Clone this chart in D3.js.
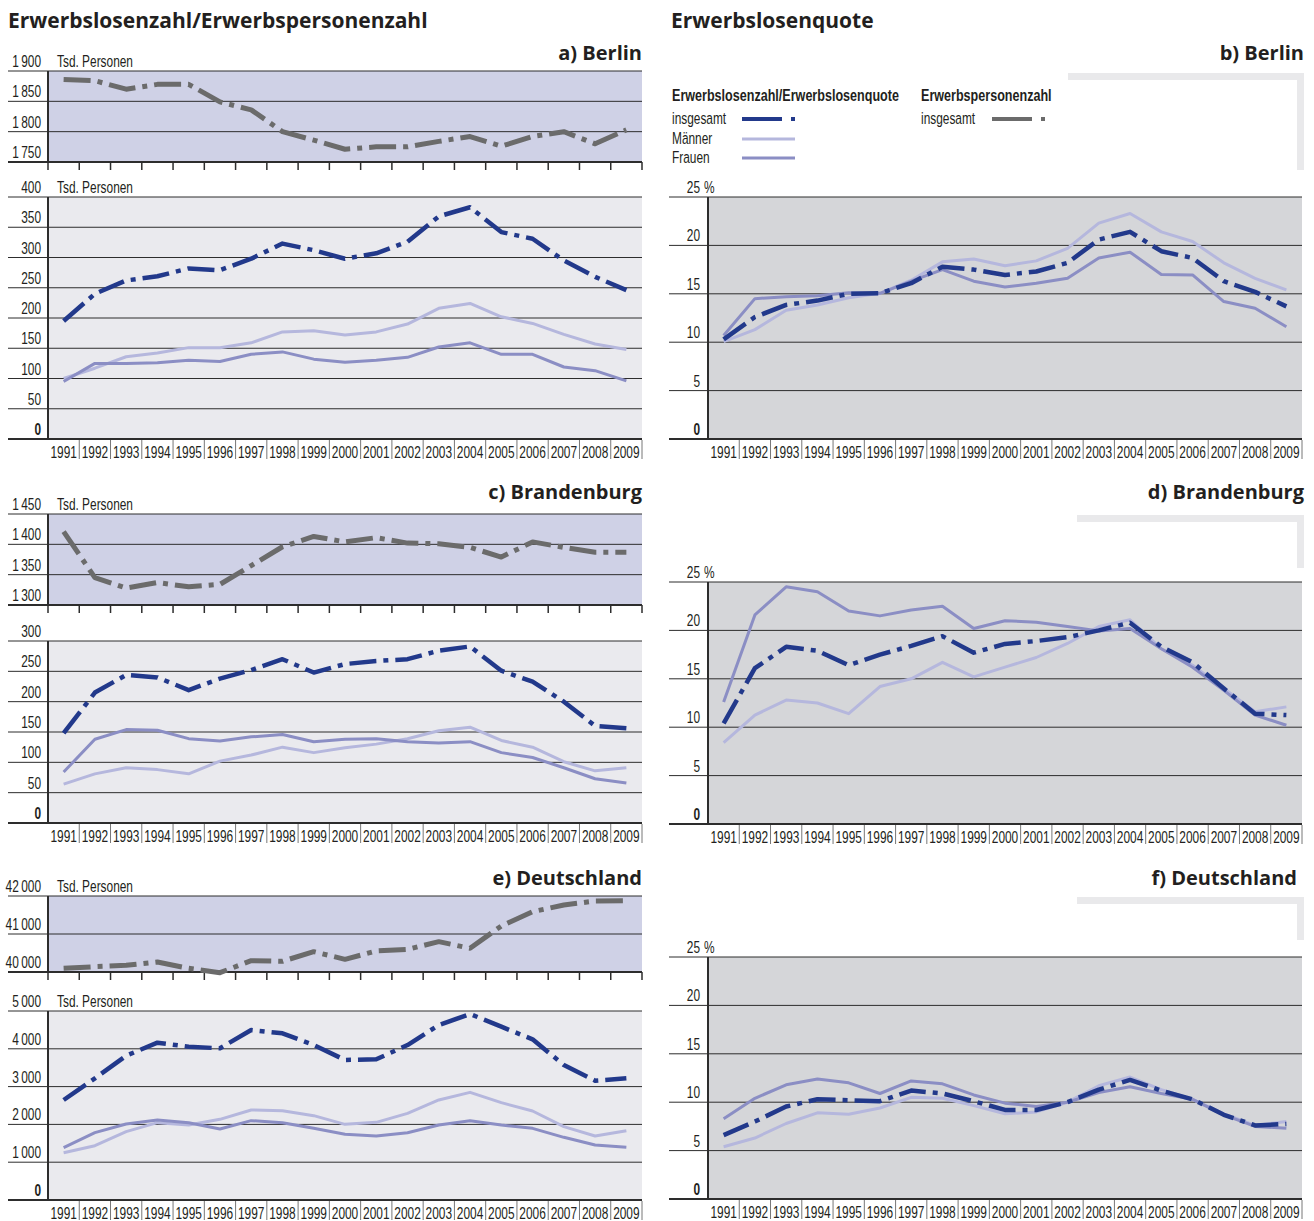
<!DOCTYPE html>
<html>
<head>
<meta charset="utf-8">
<script src="https://cdn.jsdelivr.net/npm/d3@7"></script>
<style>
  body { margin: 0; background: #fff; }
  svg text { font-family: 'Liberation Sans', Arial, sans-serif; fill: #231f20; }
  svg text.head { font-family: 'Open Sans', sans-serif; font-weight: 700; }
</style>
</head>
<body>
<svg id="chart" width="1314" height="1221"></svg>
<script>
// DATA
/////////////////////////
var years = ["1991","1992","1993","1994","1995","1996","1997","1998","1999","2000",
             "2001","2002","2003","2004","2005","2006","2007","2008","2009"];

// Erwerbspersonen (Tsd.)
var berlinPersons = [1886,1884,1870,1878,1878,1849,1836,1800,1786,1771,1775,1775,1784,1792,1776,1792,1800,1780,1803];
var brbPersons    = [1421,1345,1328,1337,1330,1334,1365,1396,1413,1404,1411,1402,1401,1395,1379,1404,1395,1387,1387];
var dePersons     = [40097,40140,40175,40263,40097,39982,40298,40282,40535,40334,40553,40597,40798,40624,41211,41587,41763,41868,41877];

// Erwerbslose (Tsd.)
var berlinTotal = [195,240,262,269,282,279,298,323,312,298,307,326,368,383,342,331,295,268,246];
var berlinMen   = [100,117,136,142,151,151,159,177,179,172,177,190,216,224,202,191,173,157,148];
var berlinWomen = [95,125,125,126,130,128,140,144,132,127,130,135,152,159,140,140,119,113,96];

var brbTotal = [148,215,244,240,219,238,252,270,248,262,267,270,284,291,251,233,200,160,156];
var brbMen   = [64,81,91,88,81,102,112,125,116,124,130,139,152,158,136,125,101,86,91];
var brbWomen = [84,138,154,153,139,135,142,146,134,138,139,134,132,134,116,108,91,73,66];

var deTotal = [2646,3219,3818,4162,4056,4013,4497,4409,4100,3704,3722,4100,4630,4921,4585,4250,3571,3157,3219];
var deMen   = [1252,1437,1808,2046,1984,2134,2381,2363,2231,2002,2055,2293,2646,2848,2575,2354,1940,1693,1834];
var deWomen = [1384,1781,2011,2116,2046,1878,2099,2046,1896,1737,1693,1781,1984,2099,1984,1896,1658,1455,1393];

// Erwerbslosenquote (%)
var berlinRateTotal = [10.3,12.6,13.85,14.3,15.0,15.05,16.1,17.8,17.5,16.95,17.3,18.2,20.6,21.4,19.4,18.7,16.3,15.2,13.7];
var berlinRateMen   = [10.05,11.3,13.3,13.85,14.6,15.05,16.4,18.3,18.6,17.9,18.4,19.7,22.3,23.3,21.4,20.4,18.2,16.6,15.4];
var berlinRateWomen = [10.7,14.5,14.7,14.8,15.1,15.05,16.3,17.5,16.3,15.7,16.1,16.6,18.7,19.3,17.0,16.95,14.2,13.5,11.6];

var brbRateTotal = [10.4,16.1,18.3,17.9,16.4,17.5,18.4,19.4,17.7,18.6,18.9,19.3,20.0,20.8,18.3,16.7,14.0,11.4,11.25];
var brbRateMen   = [8.4,11.25,12.8,12.5,11.4,14.2,15.0,16.7,15.2,16.2,17.2,18.65,20.4,21.1,18.1,16.4,14.0,11.6,12.1];
var brbRateWomen = [12.6,21.6,24.5,24.0,22.0,21.5,22.1,22.5,20.2,21.0,20.85,20.4,19.95,20.2,18.1,16.2,13.8,11.25,10.2];

var deRateTotal = [6.6,8.0,9.55,10.3,10.2,10.1,11.2,10.9,10.1,9.2,9.2,10.0,11.3,12.3,11.2,10.3,8.7,7.6,7.75];
var deRateMen   = [5.4,6.3,7.8,8.9,8.75,9.4,10.5,10.4,9.65,8.8,9.0,10.0,11.7,12.6,11.3,10.3,8.8,7.6,8.0];
var deRateWomen = [8.3,10.4,11.8,12.4,12.0,10.9,12.2,11.9,10.75,9.9,9.55,10.0,11.0,11.6,10.9,10.3,8.7,7.5,7.3];


// SETUP
/////////////////////////
var svg = d3.select("#chart");
var col = { total: "#22398b", men: "#b5b7dd", women: "#8b8ec4", persons: "#6b6b6b" };
var dash = "27,7,5,7";   // strich-punkt
var num = d3.formatLocale({ decimal: ",", thousands: "\u2009", grouping: [3], currency: ["", ""] }).format(",d");

// no condensed font installed -> squeeze Liberation Sans horizontally
var FS = 17, SQ = 0.7;
function sq(x, y) { return "translate(" + x + "," + y + ") scale(" + SQ + ",1)"; }

// one plot box: background, grid, y labels, line series
function plotBox(g, o) {
  var x = o.x, y = o.y;
  var x0 = x.range()[0], x1 = x.range()[1];
  var yb = y.range()[0], yt = y.range()[1];
  var dom = y.domain();
  var ticks = d3.range(dom[0], dom[1] + o.step / 2, o.step);

  g.append("rect").attr("x", x0).attr("y", yt).attr("width", x1 - x0).attr("height", yb - yt)
    .attr("fill", o.bg);

  g.selectAll(null).data(ticks).enter().append("line")
    .attr("x1", o.gridX0).attr("x2", x1)
    .attr("y1", function(d) { return y(d); }).attr("y2", function(d) { return y(d); })
    .attr("stroke", "#2d2d2d")
    .attr("stroke-width", function(d) { return d === dom[0] ? 2 : 1; });

  g.selectAll(null).data(ticks).enter().append("text")
    .attr("transform", function(d) { return sq(o.labelX, y(d) - 4); })
    .attr("text-anchor", "end").attr("font-size", FS)
    .attr("font-weight", function(d) { return d === 0 ? "bold" : null; })
    .text(function(d) { return num(d); });

  if (o.unit) {
    g.append("text").attr("transform", sq(o.unitX, y(dom[1]) - 4)).attr("font-size", FS).text(o.unit);
  }

  // vertical axis
  g.append("line").attr("x1", x0).attr("x2", x0).attr("y1", yt).attr("y2", yb + 1)
    .attr("stroke", "#2d2d2d").attr("stroke-width", 2);

  var bw = x.bandwidth();
  if (o.years) {
    g.selectAll(null).data(years).enter().append("text")
      .attr("transform", function(d) { return sq(x(d) + bw / 2, yb + 19); })
      .attr("text-anchor", "middle").attr("font-size", FS).text(function(d) { return d; });
    g.selectAll(null).data(years).enter().append("line")
      .attr("x1", function(d) { return x(d) + bw; }).attr("x2", function(d) { return x(d) + bw; })
      .attr("y1", yb + 1).attr("y2", yb + 20).attr("stroke", "#777").attr("stroke-width", 1);
  } else {
    g.selectAll(null).data([x0].concat(years.map(function(d) { return x(d) + bw; }))).enter().append("line")
      .attr("x1", function(d) { return d; }).attr("x2", function(d) { return d; })
      .attr("y1", yb).attr("y2", yb + 8).attr("stroke", "#2d2d2d").attr("stroke-width", 1.5);
  }

  var line = d3.line()
    .x(function(d, i) { return x(years[i]) + bw / 2; })
    .y(function(d) { return y(d); });

  o.series.forEach(function(s) {
    g.append("path").datum(s.values)
      .attr("d", line).attr("fill", "none")
      .attr("stroke", s.color).attr("stroke-width", s.width)
      .attr("stroke-dasharray", s.dash || null)
      .attr("stroke-linejoin", "round");
  });
}

function seriesSet(men, women, total) {
  return [
    { values: men, color: col.men, width: 3 },
    { values: women, color: col.women, width: 3 },
    { values: total, color: col.total, width: 4.5, dash: dash }
  ];
}

// LEFT: Erwerbslosenzahl/Erwerbspersonenzahl
function drawLeft(p) {
  var g = svg.append("g");
  var x = d3.scaleBand().domain(years).range([48, 642]);
  g.append("text").attr("class", "head").attr("x", 642).attr("y", p.titleY)
    .attr("text-anchor", "end").attr("font-size", 20).text(p.title);

  plotBox(g, {
    x: x, y: d3.scaleLinear().domain(p.topDomain).range(p.topRange),
    step: p.topStep, bg: "#cfd1e6", gridX0: 8, labelX: 41, unit: "Tsd. Personen", unitX: 57,
    series: [{ values: p.persons, color: col.persons, width: 5, dash: dash }]
  });
  plotBox(g, {
    x: x, y: d3.scaleLinear().domain(p.botDomain).range(p.botRange),
    step: p.botStep, bg: "#eaeaee", gridX0: 8, labelX: 41, unit: p.botUnit, unitX: 57, years: true,
    series: seriesSet(p.men, p.women, p.total)
  });
}

// RIGHT: Erwerbslosenquote
function drawRight(p) {
  var g = svg.append("g");
  var x = d3.scaleBand().domain(years).range([708, 1302]);
  g.append("text").attr("class", "head").attr("x", p.titleX).attr("y", p.titleY)
    .attr("text-anchor", "end").attr("font-size", 20).text(p.title);

  // grey corner decoration
  g.append("rect").attr("x", p.decoX).attr("y", p.decoY).attr("width", 1304 - p.decoX).attr("height", 7).attr("fill", "#e9e9eb");
  g.append("rect").attr("x", 1297).attr("y", p.decoY).attr("width", 7).attr("height", p.decoH).attr("fill", "#e9e9eb");

  var y = d3.scaleLinear().domain([0, 25]).range(p.range);
  plotBox(g, {
    x: x, y: y, step: 5, bg: "#d5d6d9", gridX0: 669, labelX: 700, years: true,
    series: seriesSet(p.men, p.women, p.total)
  });
  g.append("text").attr("transform", sq(704, y(25) - 4)).attr("font-size", FS).text("%");
}

svg.append("text").attr("class", "head").attr("x", 8).attr("y", 28).attr("font-size", 21)
  .text("Erwerbslosenzahl/Erwerbspersonenzahl");
svg.append("text").attr("class", "head").attr("x", 671).attr("y", 28).attr("font-size", 21)
  .text("Erwerbslosenquote");

drawLeft({ title: "a) Berlin", titleY: 60,
  topDomain: [1750, 1900], topRange: [162, 71], topStep: 50, persons: berlinPersons,
  botDomain: [0, 400], botRange: [439, 197], botStep: 50, botUnit: "Tsd. Personen",
  total: berlinTotal, men: berlinMen, women: berlinWomen });
drawLeft({ title: "c) Brandenburg", titleY: 499,
  topDomain: [1300, 1450], topRange: [605, 514], topStep: 50, persons: brbPersons,
  botDomain: [0, 300], botRange: [823, 641], botStep: 50, botUnit: null,
  total: brbTotal, men: brbMen, women: brbWomen });
drawLeft({ title: "e) Deutschland", titleY: 885,
  topDomain: [40000, 42000], topRange: [972, 896], topStep: 1000, persons: dePersons,
  botDomain: [0, 5000], botRange: [1200, 1011], botStep: 1000, botUnit: "Tsd. Personen",
  total: deTotal, men: deMen, women: deWomen });

drawRight({ title: "b) Berlin", titleX: 1304, titleY: 60, decoX: 1068, decoY: 73, decoH: 97,
  range: [439, 197], total: berlinRateTotal, men: berlinRateMen, women: berlinRateWomen });
drawRight({ title: "d) Brandenburg", titleX: 1304, titleY: 499, decoX: 1077, decoY: 515, decoH: 53,
  range: [824, 582], total: brbRateTotal, men: brbRateMen, women: brbRateWomen });
drawRight({ title: "f) Deutschland", titleX: 1297, titleY: 885, decoX: 1077, decoY: 897, decoH: 43,
  range: [1199, 957], total: deRateTotal, men: deRateMen, women: deRateWomen });

// LEGEND
var lg = svg.append("g");
lg.append("text").attr("transform", "translate(672,101) scale(0.74,1)").attr("font-size", FS).attr("font-weight", "bold")
  .text("Erwerbslosenzahl/Erwerbslosenquote");
lg.append("text").attr("transform", "translate(921,101) scale(0.74,1)").attr("font-size", FS).attr("font-weight", "bold")
  .text("Erwerbspersonenzahl");
var legendItems = [
  { label: "insgesamt", x: 672, lx: 742, y: 119, color: col.total, dash: true },
  { label: "Männer", x: 672, lx: 742, y: 139, color: col.men },
  { label: "Frauen", x: 672, lx: 742, y: 158, color: col.women },
  { label: "insgesamt", x: 921, lx: 992, y: 119, color: col.persons, dash: true }
];
legendItems.forEach(function(d) {
  lg.append("text").attr("transform", sq(d.x, d.y + 5)).attr("font-size", FS).text(d.label);
  lg.append("line").attr("x1", d.lx).attr("x2", d.lx + 53).attr("y1", d.y).attr("y2", d.y)
    .attr("stroke", d.color).attr("stroke-width", d.dash ? 4 : 3)
    .attr("stroke-dasharray", d.dash ? "40,9,4,20" : null);
});
</script>
</body>
</html>
